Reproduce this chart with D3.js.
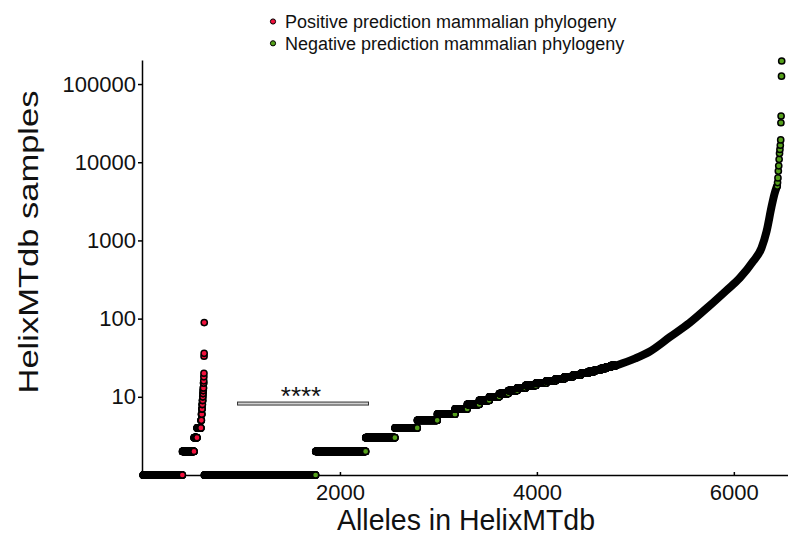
<!DOCTYPE html>
<html>
<head>
<meta charset="utf-8">
<script src="https://cdn.jsdelivr.net/npm/d3@7"></script>
<style>
body { margin: 0; background: #fff; }
svg text { font-family: "Liberation Sans", Arial, sans-serif; fill: #111; }
</style>
</head>
<body>
<div id="my_dataviz"></div>
<script>
// alleles per sample count
var redValues = [1, 2, 3, 4, 5, 6, 7, 8, 9, 10, 11, 12, 13, 15, 16, 18, 20, 33, 36, 89];
var redCounts = [400, 118, 30, 40, 5, 4, 3, 3, 3, 2, 2, 2, 2, 2, 1, 1, 1, 1, 1, 1];

var greenValues = [1, 2, 3, 4, 5, 6, 7, 8, 9, 10, 11, 12, 13,
                   14, 15, 16, 17, 18, 19, 20, 21, 22, 23, 24, 25];
var greenCounts = [1131, 508, 297, 227, 203, 180, 124, 122, 102, 101, 92, 91, 85,
                   105, 105, 95, 90, 85, 80, 75, 65, 60, 55, 50, 50];

// dense part of the green curve (rank, samples)
var tailRanks = [4800, 5000, 5147, 5350, 5550, 5750, 5926, 6060, 6196, 6281, 6332, 6383, 6412, 6438];
var tailValues = [25, 31, 38, 58, 88, 145, 230, 330, 540, 800, 1300, 2700, 3900, 4950];

// single alleles at the top end
var topRanks = [6441, 6444, 6448, 6452, 6456, 6460, 6464, 6468, 6472, 6476, 6478, 6480, 6484, 6486];
var topValues = [4950, 5500, 6300, 7700, 9000, 10900, 13000, 14600, 16500, 19300, 32000, 39000, 126000, 197000];

var xTicks = [2000, 4000, 6000];
var yTicks = [10, 100, 1000, 10000, 100000];

var legendLabels = ["Positive prediction mammalian phylogeny", "Negative prediction mammalian phylogeny"];

var red = "#f2113d";
var green = "#55a01b";

var svg = d3.select("#my_dataviz")
  .append("svg")
  .attr("width", 788)
  .attr("height", 542);

var x = d3.scaleLinear().domain([0, 6550]).range([143, 788]);
var y = d3.scaleLog().domain([1, 203000]).range([475, 60]);

// build the sorted points from the counts
var points = [];
var rank = 1;
redValues.forEach(function(v, i) {
  for (var k = 0; k < redCounts[i]; k++) {
    points.push({rank: rank, value: v, color: red});
    rank++;
  }
});
greenValues.forEach(function(v, i) {
  for (var k = 0; k < greenCounts[i]; k++) {
    points.push({rank: rank, value: v, color: green});
    rank++;
  }
});

// axes
svg.append("g")
  .attr("transform", "translate(142,0)")
  .call(d3.axisLeft(y).tickValues(yTicks).tickFormat(d3.format("d")).tickSize(4).tickSizeOuter(0).tickPadding(2));

svg.append("g")
  .attr("transform", "translate(0,475)")
  .call(d3.axisBottom(x).tickValues(xTicks).tickFormat(d3.format("d")).tickSize(-3).tickSizeOuter(0).tickPadding(9));

svg.selectAll(".domain, .tick line")
  .style("stroke", "#000")
  .style("stroke-width", "1.5px");
svg.selectAll(".tick text")
  .style("font-size", "22px")
  .style("font-family", "'Liberation Sans', Arial, sans-serif")
  .style("fill", "#111");

// rank scatter
svg.append("g")
  .selectAll("circle")
  .data(points)
  .enter()
  .append("circle")
  .attr("cx", function(d) { return x(d.rank); })
  .attr("cy", function(d) { return y(d.value); })
  .attr("r", 3.1)
  .style("fill", function(d) { return d.color; })
  .style("stroke", "#000")
  .style("stroke-width", "1.5px");

var tail = tailRanks.map(function(r, i) { return [r, tailValues[i]]; });
svg.append("path")
  .datum(tail)
  .attr("d", d3.line()
    .x(function(d) { return x(d[0]); })
    .y(function(d) { return y(d[1]); })
    .curve(d3.curveMonotoneX))
  .style("fill", "none")
  .style("stroke", "#000")
  .style("stroke-width", "8px")
  .style("stroke-linecap", "round")
  .style("stroke-linejoin", "round");

topRanks.forEach(function(r, i) {
  svg.append("circle")
    .attr("cx", x(r))
    .attr("cy", y(topValues[i]))
    .attr("r", 3.1)
    .style("fill", green)
    .style("stroke", "#000")
    .style("stroke-width", "1.5px");
});

// significance bar
svg.append("rect")
  .attr("x", x(960))
  .attr("y", y(8.2) - 1.5)
  .attr("width", x(2290) - x(960))
  .attr("height", 3)
  .style("fill", "#d0d0d0")
  .style("stroke", "#333")
  .style("stroke-width", "1px");

svg.append("text")
  .text("****")
  .attr("x", (x(960) + x(2290)) / 2 - 2)
  .attr("y", 405)
  .attr("text-anchor", "middle")
  .style("font-size", "26px");

// axis titles
svg.append("text")
  .text("Alleles in HelixMTdb")
  .attr("x", 466)
  .attr("y", 530)
  .attr("text-anchor", "middle")
  .attr("textLength", 258)
  .attr("lengthAdjust", "spacingAndGlyphs")
  .style("font-size", "30px");

svg.append("text")
  .text("HelixMTdb samples")
  .attr("transform", "translate(38,242) rotate(-90)")
  .attr("text-anchor", "middle")
  .attr("textLength", 303)
  .attr("lengthAdjust", "spacingAndGlyphs")
  .style("font-size", "27px");

// legend
legendLabels.forEach(function(label, i) {
  var ly = 21.5 + i * 21.8;
  svg.append("circle")
    .attr("cx", 273)
    .attr("cy", ly)
    .attr("r", 2.6)
    .style("fill", i == 0 ? red : green)
    .style("stroke", "#000")
    .style("stroke-width", "1px");
  svg.append("text")
    .text(label)
    .attr("x", 285)
    .attr("y", ly + 6.5)
    .style("font-size", "18px");
});
</script>
</body>
</html>
